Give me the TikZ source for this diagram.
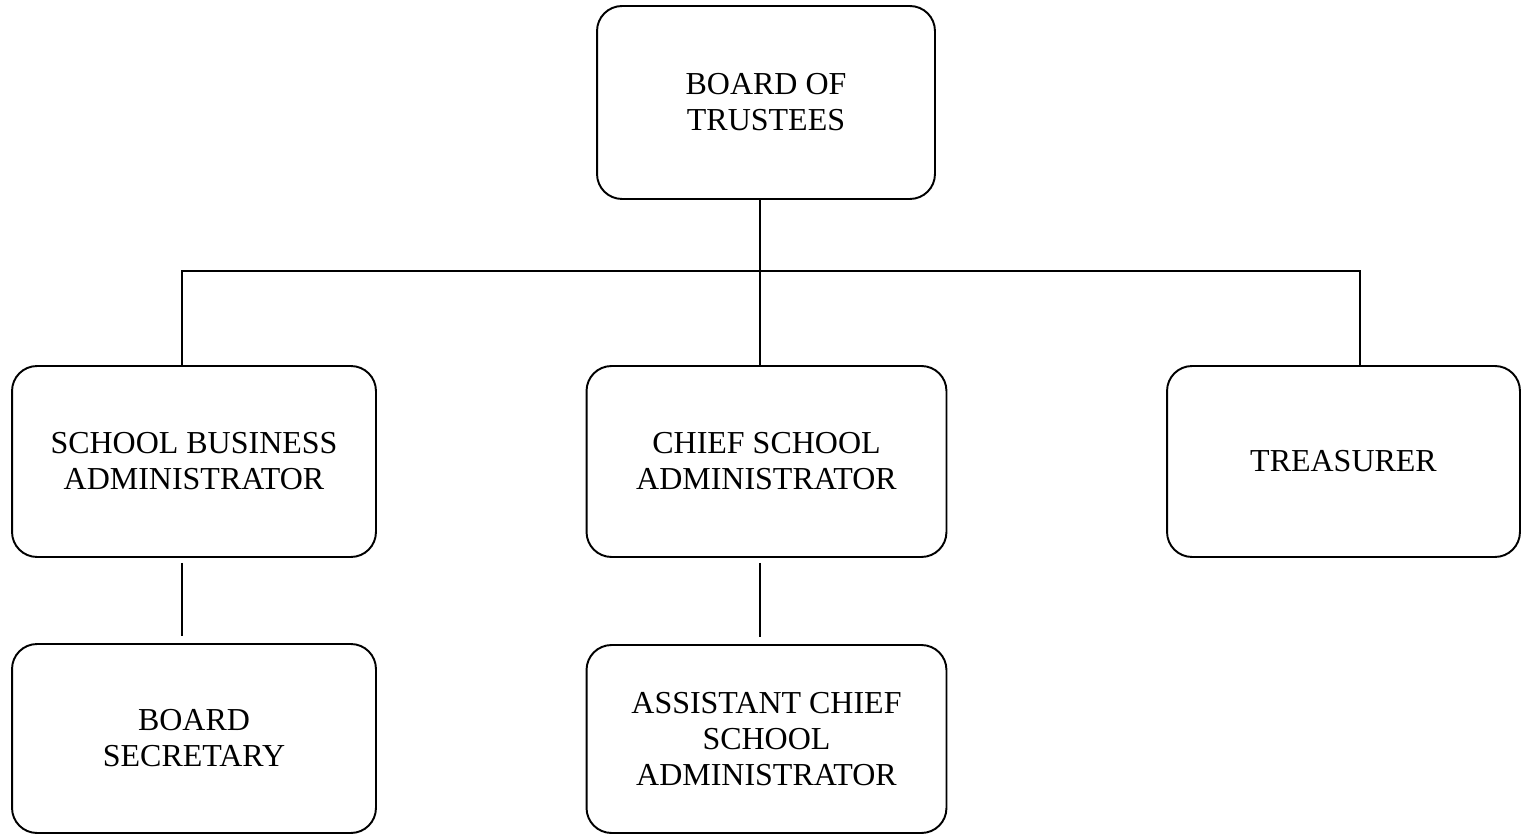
\documentclass[tikz,border=0pt]{standalone}
\usepackage{fontspec}
\setmainfont{Liberation Serif}
\tikzset{
  post/.style={draw, line width=1.1pt, rounded corners=0.5cm, align=center,
    minimum width=7.2cm, minimum height=3.82cm, inner sep=0pt,
    font=\fontsize{18.2}{20.5}\selectfont},
}

\begin{document}
\begin{tikzpicture}[x=0.02cm, y=-0.02cm, line width=1.1pt]
    \useasboundingbox (0,0) rectangle (1522,834);

    \node[post, minimum width=6.76cm, minimum height=3.86cm] (bot) at (766,102.5) {BOARD OF\\TRUSTEES};
    \node[post, minimum width=7.28cm] (sba) at (194,461.5) {SCHOOL BUSINESS\\ADMINISTRATOR};
    \node[post] (csa) at (766.5,461.5) {CHIEF SCHOOL\\ADMINISTRATOR};
    \node[post, minimum width=7.06cm] (tre) at (1343.5,461.5) {TREASURER};
    \node[post, minimum width=7.28cm, minimum height=3.78cm] (sec) at (194,738.5) {BOARD\\SECRETARY};
    \node[post, minimum height=3.76cm] (acsa) at (766.5,739) {ASSISTANT CHIEF\\SCHOOL\\ADMINISTRATOR};

    \coordinate (bus) at (760,271);

    \draw (bot.south -| bus) -- (csa.north -| bus);
    \draw ([xshift=-0.24cm]sba.north) |- (bus) -| ([xshift=0.33cm]tre.north);
    \draw[shorten <=0.1cm, shorten >=0.14cm] ([xshift=-0.24cm]sba.south) -- ([xshift=-0.24cm]sec.north);
    \draw[shorten <=0.1cm, shorten >=0.14cm] (csa.south -| bus) -- (acsa.north -| bus);
  \end{tikzpicture}
\end{document}
